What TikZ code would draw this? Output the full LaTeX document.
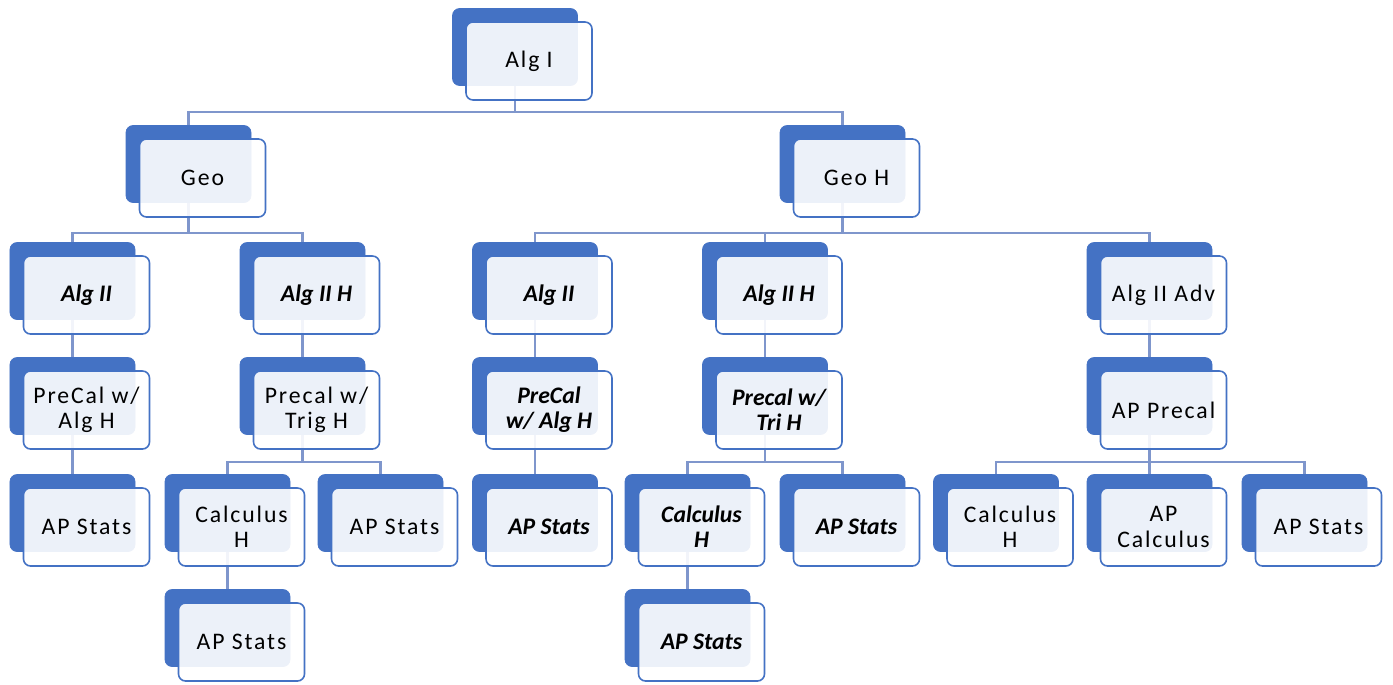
\documentclass[tikz,border=0pt]{standalone}
\usepackage{fontspec}
\setmainfont{Carlito}[LetterSpace=8, BoldItalicFeatures={LetterSpace=0}]
\usetikzlibrary{backgrounds}
\definecolor{tileblue}{HTML}{4472C4}
\definecolor{linkblue}{HTML}{7F96CC}
\newcommand{\tile}[5][]{%
  \node[backbox] (#2) at (#3,#4) {};
  \node[frontbox,#1] (#2-f) at ([shift={(14,14)}]#2.center) {#5};}

\begin{document}
\begin{tikzpicture}[x=0.2mm, y=-0.2mm,
  backbox/.style={draw=tileblue, fill=tileblue, rounded corners=4pt, minimum width=2.5cm, minimum height=1.54cm, inner sep=0pt},
  frontbox/.style={draw=tileblue, line width=0.9pt, fill=white, fill opacity=0.9, text opacity=1, rounded corners=4pt, minimum width=2.52cm, minimum height=1.56cm, inner sep=0pt, align=center, font=\fontsize{13.5}{14.3}\selectfont},
  bi/.style={font=\fontsize{13.5}{14.3}\selectfont\bfseries\itshape},
  link/.style={draw=linkblue, line width=1.5pt}]
  \useasboundingbox (0,0) rectangle (1393,685);
  \tile{algI}{515}{47}{Alg I}
  \tile{geo}{188.5}{164}{Geo}
  \tile{geoH}{842.5}{164}{Geo H}
  \tile[bi]{alg2a}{72.5}{281}{Alg II}
  \tile[bi]{alg2hb}{302.5}{281}{Alg II H}
  \tile[bi]{alg2c}{535}{281}{Alg II}
  \tile[bi]{alg2hd}{765}{281}{Alg II H}
  \tile{alg2adv}{1149.5}{281}{Alg II Adv}
  \tile{pcA}{72.5}{396}{PreCal w/\\Alg H}
  \tile{pcB}{302.5}{396}{Precal w/\\Trig H}
  \tile[bi]{pcC}{535}{396}{PreCal\\w/ Alg H}
  \tile[bi]{pcD}{765}{396}{Precal w/\\Tri H}
  \tile{apPre}{1149.5}{396}{AP Precal}
  \tile{statsA}{72.5}{513}{AP Stats}
  \tile{calcB}{227.5}{513}{Calculus\\H}
  \tile{statsB}{380.5}{513}{AP Stats}
  \tile[bi]{statsC}{535}{513}{AP Stats}
  \tile[bi]{calcD}{687.5}{513}{Calculus\\H}
  \tile[bi]{statsD}{842.5}{513}{AP Stats}
  \tile{calcE}{996}{513}{Calculus\\H}
  \tile{apCalcE}{1149.5}{513}{AP\\Calculus}
  \tile{statsE}{1304.5}{513}{AP Stats}
  \tile{statsB2}{227.5}{628}{AP Stats}
  \tile[bi]{statsD2}{687.5}{628}{AP Stats}
  \coordinate (bus0) at (0,112);
  \coordinate (bus1) at (0,233);
  \coordinate (bus3) at (0,462);
  \begin{pgfonlayer}{background}
    \draw[link] (algI) -- (algI |- bus0);
    \draw[link] (geo.north) |- (bus0 -| geoH) -- (geoH.north);
    \draw[link] (geo) -- (geo |- bus1);
    \draw[link] (alg2a.north) |- (bus1 -| alg2hb) -- (alg2hb.north);
    \draw[link] (geoH) -- (geoH |- bus1);
    \draw[link] (alg2c.north) |- (bus1 -| alg2adv) -- (alg2adv.north);
    \draw[link] (alg2hd.north) -- (alg2hd |- bus1);
    \draw[link] (alg2a) -- (pcA.north);
    \draw[link] (alg2hb) -- (pcB.north);
    \draw[link] (alg2c) -- (pcC.north);
    \draw[link] (alg2hd) -- (pcD.north);
    \draw[link] (alg2adv) -- (apPre.north);
    \draw[link] (pcA) -- (statsA.north);
    \draw[link] (pcC) -- (statsC.north);
    \draw[link] (pcB) -- (pcB |- bus3);
    \draw[link] (calcB.north) |- (bus3 -| statsB) -- (statsB.north);
    \draw[link] (pcD) -- (pcD |- bus3);
    \draw[link] (calcD.north) |- (bus3 -| statsD) -- (statsD.north);
    \draw[link] (apPre) -- (apCalcE.north);
    \draw[link] (calcE.north) |- (bus3 -| statsE) -- (statsE.north);
    \draw[link] (calcB) -- (statsB2.north);
    \draw[link] (calcD) -- (statsD2.north);
  \end{pgfonlayer}
\end{tikzpicture}
\end{document}
